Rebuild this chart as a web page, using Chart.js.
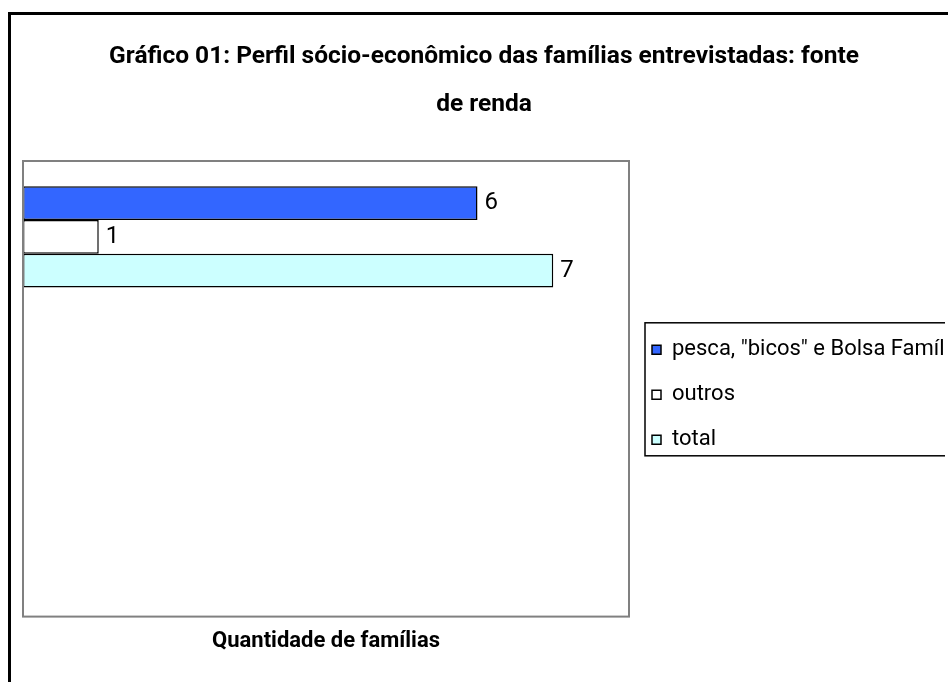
<!DOCTYPE html>
<html>
<head>
<meta charset="utf-8">
<script src="https://cdn.jsdelivr.net/npm/chart.js@4"></script>
<style>
  html, body { margin: 0; padding: 0; background: #fff; overflow: hidden; }
  #frame { position: absolute; left: 8px; top: 12px; width: 1000px; height: 700px;
           border-left: 3px solid #000; border-top: 3px solid #000; }
  #chart { position: absolute; left: 0; top: 0; }
</style>
</head>
<body>
<div id="frame"></div>
<canvas id="chart" width="945" height="682"></canvas>
<script>
// dados
var categorias = ["", "", ""];
var series = ['pesca, "bicos" e Bolsa Família', "outros", "total"];
var valores = [[6], [1], [7]];
var cores = ["#3366FF", "#FFFFFF", "#CCFFFF"];
var titulo = ["Gráfico 01: Perfil sócio-econômico das famílias entrevistadas: fonte", "de renda"];
var tituloEixo = "Quantidade de famílias";

var fonte = "Roboto";

// moldura da área do gráfico + caixa da legenda + rótulos
var extras = {
  id: "extras",
  afterDraw: function(chart) {
    var c = chart.ctx;
    var a = chart.chartArea;
    c.save();
    c.strokeStyle = "#808080";
    c.lineWidth = 2;
    c.strokeRect(a.left, a.top, a.right - a.left, a.bottom - a.top);

    var lg = chart.legend;
    var hb = lg.legendHitBoxes;
    if (hb && hb.length) {
      var top = hb[0].top - 16;
      var bottom = hb[hb.length - 1].top + hb[hb.length - 1].height + 5;
      c.strokeStyle = "#000";
      c.lineWidth = 1.5;
      c.strokeRect(lg.left + 16, top, chart.width, bottom - top);
    }

    c.fillStyle = "#000";
    c.font = "24px " + fonte;
    c.textBaseline = "middle";
    c.textAlign = "left";
    chart.data.datasets.forEach(function(ds, i) {
      var meta = chart.getDatasetMeta(i);
      meta.data.forEach(function(bar, j) {
        if (ds.data[j] == null) return;
        c.fillText(ds.data[j], bar.x + 7, bar.y);
      });
    });
    c.restore();
  }
};

new Chart("chart", {
  type: "bar",
  data: {
    labels: categorias,
    datasets: series.map(function(nome, i) {
      return {
        label: nome,
        data: valores[i],
        backgroundColor: cores[i],
        borderColor: "#000",
        borderWidth: 1.5,
        borderSkipped: false,
        categoryPercentage: 0.667,
        barPercentage: 1.0
      };
    })
  },
  options: {
    indexAxis: "y",
    responsive: false,
    devicePixelRatio: 1,
    animation: false,
    layout: { padding: { left: 23, top: 0, bottom: 27, right: 0 } },
    scales: {
      x: {
        min: 0, max: 8,
        ticks: { display: false },
        grid: { display: false, drawTicks: false },
        border: { display: false },
        title: {
          display: true,
          text: tituloEixo,
          color: "#000",
          font: { family: fonte, size: 22, weight: "bold" },
          padding: { top: 12, bottom: 0 }
        }
      },
      y: { display: false }
    },
    plugins: {
      title: {
        display: true,
        text: titulo,
        color: "#000",
        font: { family: fonte, size: 24.5, weight: "bold", lineHeight: "48px" },
        padding: { top: 33, bottom: 32 }
      },
      legend: {
        position: "right",
        fullSize: false,
        maxWidth: 316,
        title: { display: true, text: "", font: { size: 10, lineHeight: 1.2 }, padding: 0 },
        labels: {
          color: "#000",
          font: { family: fonte, size: 22 },
          boxWidth: 9,
          boxHeight: 9,
          padding: 23
        }
      },
      tooltip: { enabled: false }
    }
  },
  plugins: [extras]
});
</script>
</body>
</html>
